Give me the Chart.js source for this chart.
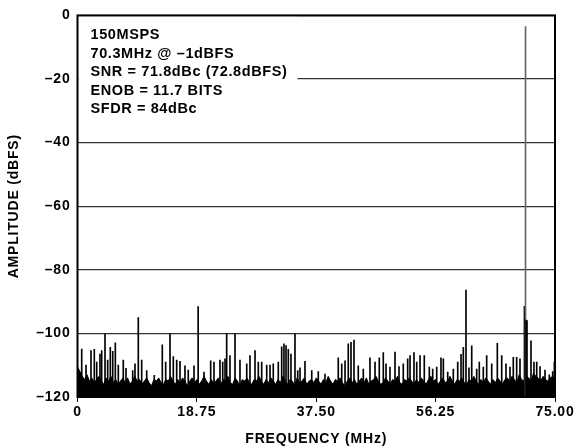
<!DOCTYPE html>
<html>
<head>
<meta charset="utf-8">
<script src="https://cdn.jsdelivr.net/npm/chart.js@4.4.1/dist/chart.umd.min.js"></script>
<style>
  html, body { margin: 0; padding: 0; background: #fff; }
  canvas { display: block; }
</style>
</head>
<body>
<canvas id="fft" width="577" height="448"></canvas>
<script>
// FFT 150MSPS, 70.3MHz @ -1dBFS
const binStep = 0.375; // MHz per floor bin
const floorDb = [
  -110.5,-112,-113.5,-114.5,-113,-115,-114,-115.5,-114.5,-113.5,-115,-116,-114,-115,-113.5,-115.5,-114.5,-116,-115,-114,
  -115.5,-114,-116,-115,-113.5,-115,-114.5,-116,-115,-114,-115.5,-116.5,-114.5,-115,-114,-115.5,-116,-114.5,-115,-113.5,
  -115,-116,-114.5,-115.5,-114,-115,-116.5,-115,-114,-115.5,-114.5,-116,-115,-113.5,-115,-116,-114.5,-115.5,-115,-114,
  -116,-114.5,-115,-113.5,-115.5,-116,-114,-115,-116.5,-114.5,-115,-114,-115.5,-116,-114.5,-115,-113.5,-115,-116,-114.5,
  -115.5,-114,-115,-116,-114.5,-115.5,-113.5,-115,-116,-114.5,-115,-116.5,-114,-115.5,-115,-114,-116,-115,-114.5,-115.5,
  -114,-115,-116,-114.5,-115.5,-113.5,-115,-116,-114.5,-115,-114,-115.5,-116.5,-115,-114,-115.5,-114.5,-116,-115,-114,
  -115.5,-114,-116,-115,-114.5,-113.5,-115,-116,-115.5,-114,-115,-116,-114.5,-115,-113.5,-115.5,-116,-114.5,-115,-114,
  -115,-116,-114.5,-115.5,-114,-115,-116,-114.5,-113.5,-115,-114.5,-116,-115,-114,-115.5,-115,-113.5,-115,-116,-114.5,
  -115,-114,-115.5,-116,-114.5,-115,-113.5,-115,-116,-114.5,-115.5,-114,-115,-116,-114.5,-115.5,-114,-115,-116,-114.5,
  -114,-115,-113.5,-114.5,-115.5,-113,-114.5,-115,-113.5,-114,-115,-112.5,-113.5,-114,-115,-113.5,-114.5,-115,-114,-113.5,
  -114.5
];

// spurs and noise spikes standing above the floor
const spikeMHz = [
  0.66, 1.34, 2.12, 2.64, 3.02, 3.53, 3.80, 4.32, 4.74, 5.15, 5.53, 5.94, 6.41, 7.19, 7.62, 8.67, 9.03, 9.55, 10.08, 10.87,
  12.06, 13.32, 13.85, 14.53, 15.05, 15.58, 16.10, 16.88, 17.40, 18.30, 18.95, 19.87, 20.92, 21.44, 22.38, 22.81, 23.17, 23.43, 23.95, 24.74,
  25.52, 26.58, 27.09, 27.88, 28.40, 28.93, 29.72, 30.24, 30.75, 31.54, 32.07, 32.43, 32.75, 33.11, 33.53, 34.16, 34.59, 34.95, 35.73, 36.79,
  37.82, 38.87, 40.96, 41.50, 42.02, 42.53, 42.96, 43.43, 44.10, 44.89, 45.94, 46.73, 47.40, 48.03, 48.46, 49.08, 49.87, 50.50, 51.17, 51.86,
  52.23, 52.85, 53.28, 53.80, 54.47, 55.26, 55.79, 56.42, 57.09, 57.46, 58.15, 59.03, 59.72, 60.24, 60.60, 61.02, 61.49, 61.92, 62.70, 63.11,
  63.74, 64.27, 65.06, 65.94, 66.63, 67.30, 67.93, 68.45, 68.98, 69.50, 70.20, 70.37, 70.45, 70.60, 71.23, 71.70, 72.13, 72.65, 73.43, 74.10,
  74.64, 74.90
];
const spikeDb = [
  -104.9, -110, -105.4, -105, -109, -106.5, -105.4, -100.2, -108.4, -104.4, -105.6, -103, -110, -108.4, -111, -111.7, -109.6, -95, -108.4, -111.7,
  -113.2, -103.6, -109, -100.2, -107.3, -108.4, -108.8, -110.2, -111.5, -110.2, -91.6, -112.2, -108.6, -109, -108.4, -109, -108, -100, -107, -100.2,
  -108.4, -109.6, -107, -105.4, -109, -109, -110, -110, -109.6, -109, -104.2, -103.3, -103.8, -105, -106.5, -100.2, -111.7, -110.8, -108.8, -111.7,
  -112, -112.8, -107.7, -109.6, -108.6, -103.3, -102.8, -102.1, -110.2, -111.2, -107.7, -109, -107.7, -106, -109.6, -110.6, -105.9, -110.4, -109.6, -108,
  -107, -106, -109, -107, -107, -110.6, -111.2, -110.6, -107.7, -108, -112.2, -111.2, -109, -106.6, -104.4, -86.4, -110.8, -103.9, -111.2, -109,
  -110.6, -107, -109.6, -103.1, -107, -109.6, -110.6, -107.5, -107.5, -108, -91.5, -3.5, -95.8, -96, -102.3, -109, -109, -110.4, -111.5, -113,
  -112, -109
];

const xTicks = [0, 18.75, 37.5, 56.25, 75];
const xTickLabels = ['0', '18.75', '37.50', '56.25', '75.00'];
const yTicks = [0, -20, -40, -60, -80, -100, -120];
const yTickLabels = ['0', '–20', '–40', '–60', '–80', '–100', '–120'];

const noteLines = [
  '150MSPS',
  '70.3MHz @ –1dBFS',
  'SNR = 71.8dBc (72.8dBFS)',
  'ENOB = 11.7 BITS',
  'SFDR = 84dBc'
];

const FONT = "'Liberation Sans', Arial, Helvetica, sans-serif";

const floorPts = floorDb.map((v, i) => ({ x: i * binStep, y: v }));
const spikePts = spikeMHz.map((f, i) => ({ x: f, y: spikeDb[i] }));

const framePlugin = {
  id: 'frame',
  beforeDraw(chart) {
    chart.ctx.letterSpacing = '0.8px';
  },
  afterDatasetsDraw(chart) {
    const { ctx, chartArea: a } = chart;
    ctx.save();
    // note box hides the -20 grid line
    ctx.fillStyle = '#fff';
    ctx.fillRect(a.left + 1, a.top + 1, 219, 100);
    ctx.fillStyle = '#000';
    ctx.font = 'bold 14.5px ' + FONT;
    ctx.letterSpacing = '0.6px';
    ctx.textBaseline = 'alphabetic';
    ctx.textAlign = 'left';
    noteLines.forEach((t, i) => ctx.fillText(t, a.left + 13, a.top + 24 + i * 18.5));
    ctx.lineWidth = 2;
    ctx.strokeStyle = '#000';
    ctx.strokeRect(a.left, a.top, a.right - a.left, a.bottom - a.top);
    ctx.restore();
  }
};

new Chart(document.getElementById('fft'), {
  type: 'bar',
  data: {
    datasets: [
      {
        type: 'line',
        data: floorPts,
        borderColor: '#000',
        backgroundColor: '#000',
        borderWidth: 1,
        pointRadius: 0,
        tension: 0,
        fill: 'start',
        order: 2
      },
      {
        type: 'bar',
        data: spikePts,
        base: -120,
        // the carrier line is drawn thin and grey
        backgroundColor: c => (c.raw && c.raw.y > -50 ? '#666' : '#000'),
        borderWidth: 0,
        barThickness: 1,
        order: 1
      }
    ]
  },
  options: {
    responsive: false,
    animation: false,
    devicePixelRatio: 1,
    layout: { padding: { top: 14.5, right: 22, left: 0, bottom: 0 } },
    plugins: {
      legend: { display: false },
      tooltip: { enabled: false }
    },
    scales: {
      x: {
        type: 'linear',
        min: 0,
        max: 75,
        offset: false,
        afterFit: s => { s.height = 51; },
        afterBuildTicks: s => { s.ticks = xTicks.map(v => ({ value: v })); },
        ticks: {
          autoSkip: false,
          maxRotation: 0,
          padding: 2,
          color: '#000',
          font: { family: FONT, size: 14, weight: 'bold' },
          callback: (v, i) => xTickLabels[i]
        },
        grid: { display: true, drawOnChartArea: false, drawTicks: true, tickLength: 5, color: '#000', lineWidth: 1, offset: false },
        border: { display: false },
        title: {
          display: true,
          text: 'FREQUENCY (MHz)',
          color: '#000',
          font: { family: FONT, size: 14, weight: 'bold' },
          padding: { top: 4, bottom: 0 }
        }
      },
      y: {
        min: -120,
        max: 0,
        afterFit: s => { s.width = 77.5; },
        afterBuildTicks: s => { s.ticks = yTicks.map(v => ({ value: v })); },
        ticks: {
          padding: 7,
          color: '#000',
          font: { family: FONT, size: 14, weight: 'bold' },
          callback: (v, i) => yTickLabels[i]
        },
        grid: { color: '#333', lineWidth: 1.2, drawTicks: false },
        border: { display: false },
        title: {
          display: true,
          text: 'AMPLITUDE (dBFS)',
          color: '#000',
          font: { family: FONT, size: 14, weight: 'bold' },
          padding: { top: 6, bottom: 0 }
        }
      }
    }
  },
  plugins: [framePlugin]
});
</script>
</body>
</html>
